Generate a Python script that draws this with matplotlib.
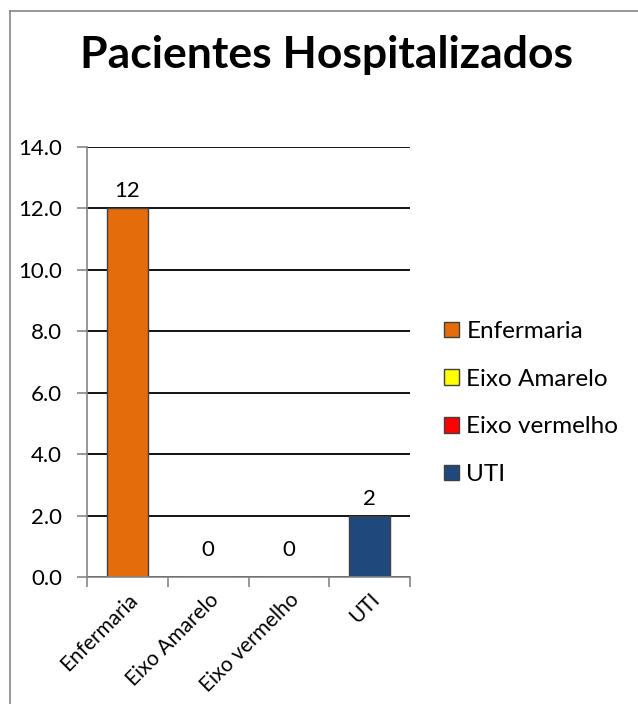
import matplotlib
matplotlib.use("Agg")
import matplotlib.pyplot as plt
from matplotlib.lines import Line2D
from matplotlib.patches import Patch

categories = ["Enfermaria", "Eixo Amarelo", "Eixo vermelho", "UTI"]
values = [12, 0, 0, 2]
colors = ["#E46C0A", "#FFFF00", "#FF0000", "#1F497D"]
y_ticks = [0, 2, 4, 6, 8, 10, 12, 14]

plt.rcParams["font.family"] = ["Lato", "DejaVu Sans"]

W, H = 638, 704
fig = plt.figure(figsize=(W / 100, H / 100), dpi=100)

# outer chart border (only top and left visible in the crop)
fig.add_artist(Line2D([10 / W, 10 / W], [0, 1 - 11 / H], transform=fig.transFigure,
                      color="#868686", lw=1.2))
fig.add_artist(Line2D([10 / W, 1], [1 - 11 / H, 1 - 11 / H], transform=fig.transFigure,
                      color="#868686", lw=1.2))

fig.text(327 / W, 1 - 55 / H, "Pacientes Hospitalizados", ha="center", va="center",
         fontsize=32, fontweight="bold")

ax = fig.add_axes([87 / W, 127 / H, 323 / W, 430 / H])
x = list(range(len(categories)))
bars = ax.bar(x, values, width=0.5, color=colors, edgecolor="#404040", linewidth=1.0, zorder=3)

# Excel puts labels of empty bars a bit higher above the axis
for xi, v in zip(x, values):
    off = 5 if v > 0 else 12
    ax.annotate(f"{v}", (xi, v), xytext=(0, off), textcoords="offset points",
                ha="center", va="bottom", fontsize=16)

ax.set_xlim(-0.5, len(categories) - 0.5)
ax.set_ylim(0, 14)
ax.set_yticks(y_ticks)
ax.set_yticklabels([f"{t:.1f}" for t in y_ticks], fontsize=16)
ax.yaxis.grid(True, color="black", lw=1.3, zorder=0)
ax.set_axisbelow(True)

ax.set_xticks(x)
ax.set_xticklabels(categories, rotation=45, ha="right", rotation_mode="anchor", fontsize=15)
ax.set_xticks([i - 0.5 for i in range(len(categories) + 1)], minor=True)
ax.tick_params(axis="x", which="major", length=0, pad=9)
ax.tick_params(axis="x", which="minor", length=7, color="#868686", width=1.2)
ax.tick_params(axis="y", length=7, color="#868686", width=1.2, pad=11)

for side in ["top", "right"]:
    ax.spines[side].set_visible(False)
for side in ["left", "bottom"]:
    ax.spines[side].set_color("#868686")
    ax.spines[side].set_linewidth(1.2)
    ax.spines[side].set_zorder(4)

handles = [Patch(facecolor=c, edgecolor="#404040", lw=1.0) for c in colors]
fig.legend(handles, categories, loc="center left", bbox_to_anchor=(444 / W, 1 - 403 / H),
           frameon=False, fontsize=17.5, handlelength=0.6, handleheight=0.6,
           handletextpad=0.32, labelspacing=1.1, borderaxespad=0, borderpad=0)

fig.savefig("out.png", dpi=100)
